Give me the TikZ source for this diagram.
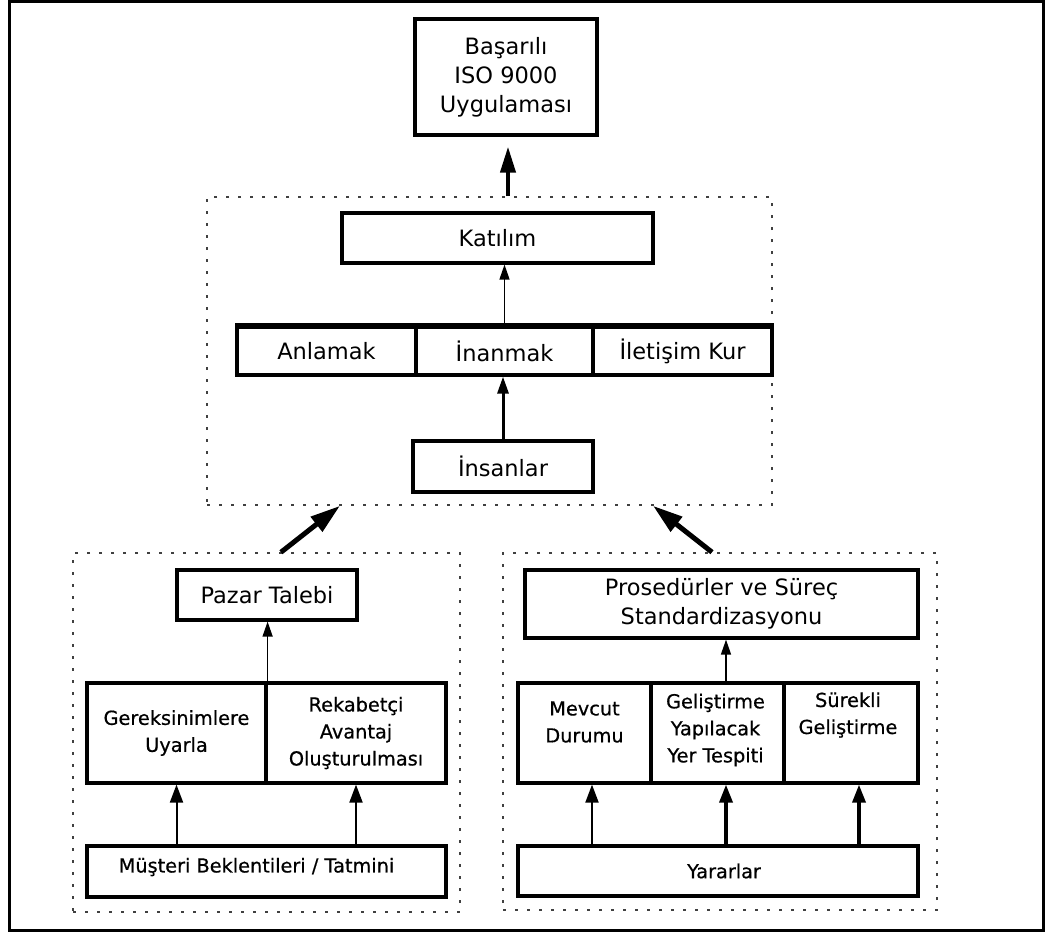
\documentclass[tikz,border=0pt]{standalone}
\usepackage{fontspec}
\setmainfont{DejaVu Sans}
\newfontfamily\semibfont{DejaVu Sans}[FakeBold=0.6]
\usetikzlibrary{arrows.meta}
\newcommand\bx[7]{\node[box,#6,minimum width={#4-#2},minimum height={#5-#3}] (#1) at ({(#2+#4)/2},{(#3+#5)/2}) {#7};}
\newcommand\grpbox[5]{\node[grp,minimum width={#4-#2},minimum height={#5-#3}] (#1) at ({(#2+#4)/2},{(#3+#5)/2}) {};}
\begin{document}
\begin{tikzpicture}[x=1pt,y=-1pt,
  box/.style={draw, line width=3.2pt, inner sep=0pt, align=center},
  big/.style={font=\fontsize{22.5}{29}\selectfont},
  small/.style={font=\semibfont\fontsize{19.3}{27}\selectfont},
  lbl/.style={align=center, inner sep=0pt},
  grp/.style={draw=black!75, line width=1.6pt, dash pattern=on 3pt off 9pt, inner sep=0pt},
  arrT/.style={line width=4pt, -{Triangle[length=26pt,width=15pt]}},
  arrD/.style={line width=5pt, -{Triangle[length=30pt,width=18pt]}},
  arrK/.style={line width=1.4pt, -{Triangle[length=15pt,width=10pt]}},
  arrI/.style={line width=3pt, -{Triangle[length=17pt,width=11pt]}},
  arrM/.style={line width=2pt, -{Triangle[length=18pt,width=13pt]}},
  arrH/.style={line width=3.5pt, -{Triangle[length=18pt,width=13pt]}},
]
\useasboundingbox (0,0) rectangle (1046,932);
\fill[white] (0,0) rectangle (1046,932);
\draw[line width=3pt] (9.5,1.2) rectangle (1043.8,930.5);

% top
\bx{top}{415}{19}{597}{135}{big}{Başarılı\\ISO 9000\\Uygulaması}

% middle group
\grpbox{mid}{207}{197}{772}{505}
\bx{kat}{342}{213}{653}{263}{big}{Katılım}
\bx{anl}{237}{327}{416}{375}{big}{Anlamak}
\bx{ina}{416}{327}{593}{375}{big}{İnanmak}
\bx{ile}{593}{327}{772}{375}{big}{İletişim Kur}
\draw[line width=5pt] (anl.north west) -- (ile.north east);
\bx{ins}{413}{441}{593}{492}{big}{İnsanlar}

% left group
\grpbox{lgrp}{73}{553}{460}{912}
\bx{paz}{177}{570}{357}{620}{big}{Pazar Talebi}
\bx{ger}{87}{683}{266}{783}{small}{Gereksinimlere\\Uyarla}
\bx{rek}{266}{683}{446}{783}{small}{Rekabetçi\\Avantaj\\Oluşturulması}
\bx{mus}{87}{846}{446}{897}{small,label={[small,lbl,xshift=-10pt,yshift=4.5pt]center:Müşteri Beklentileri / Tatmini}}{}

% right group
\grpbox{rgrp}{503}{553}{937}{910}
\bx{pro}{525}{570}{918}{638}{big}{Prosedürler ve Süreç\\Standardizasyonu}
\bx{mev}{518}{683}{651}{783}{small,label={[small,lbl,yshift=11pt]center:Mevcut\\Durumu}}{}
\bx{gel}{651}{683}{784}{783}{small,label={[small,lbl,xshift=-2pt,yshift=3pt]center:Geliştirme\\Yapılacak\\Yer Tespiti}}{}
\bx{sur}{784}{683}{918}{783}{small,label={[small,lbl,xshift=-3pt,yshift=18pt]center:Sürekli\\Geliştirme}}{}
\bx{yar}{518}{846}{918}{896}{small,label={[small,lbl,xshift=6pt]center:Yararlar}}{}

% arrows: middle
\draw[arrT,shorten >=10pt] ([xshift=18.5pt]mid.north) -- ([xshift=2pt]top.south);
\draw[arrI] (ins.north) -- (ins.north |- ina.south);
\draw[arrK] (ina.north) -- (ina.north |- kat.south);

% arrows: left
\draw[arrK] (ger.north east) -- (ger.north east |- paz.south);
\draw[arrM] (mus.north -| ger.south) -- (ger.south);
\draw[arrM] (mus.north -| rek.south) -- (rek.south);

% arrows: right
\coordinate (m1) at ([xshift=7.5pt]mev.south);
\coordinate (m2) at ([xshift=8.5pt]gel.south);
\coordinate (m3) at ([xshift=8pt]sur.south);
\coordinate (m4) at ([xshift=8.5pt]gel.north);
\draw[arrM] (m1 |- yar.north) -- (m1);
\draw[arrH] (m2 |- yar.north) -- (m2);
\draw[arrH] (m3 |- yar.north) -- (m3);
\draw[arrK] (m4) -- (m4 |- pro.south);

% diagonal arrows
\coordinate (ld) at ([xshift=14.5pt]lgrp.north);
\coordinate (lt) at ([xshift=-149.5pt]mid.south);
\coordinate (rd) at ([xshift=-8pt]rgrp.north);
\coordinate (rt) at ([xshift=163.5pt]mid.south);
\draw[arrD] (ld) -- (lt);
\draw[arrD] (rd) -- (rt);
\end{tikzpicture}
\end{document}
